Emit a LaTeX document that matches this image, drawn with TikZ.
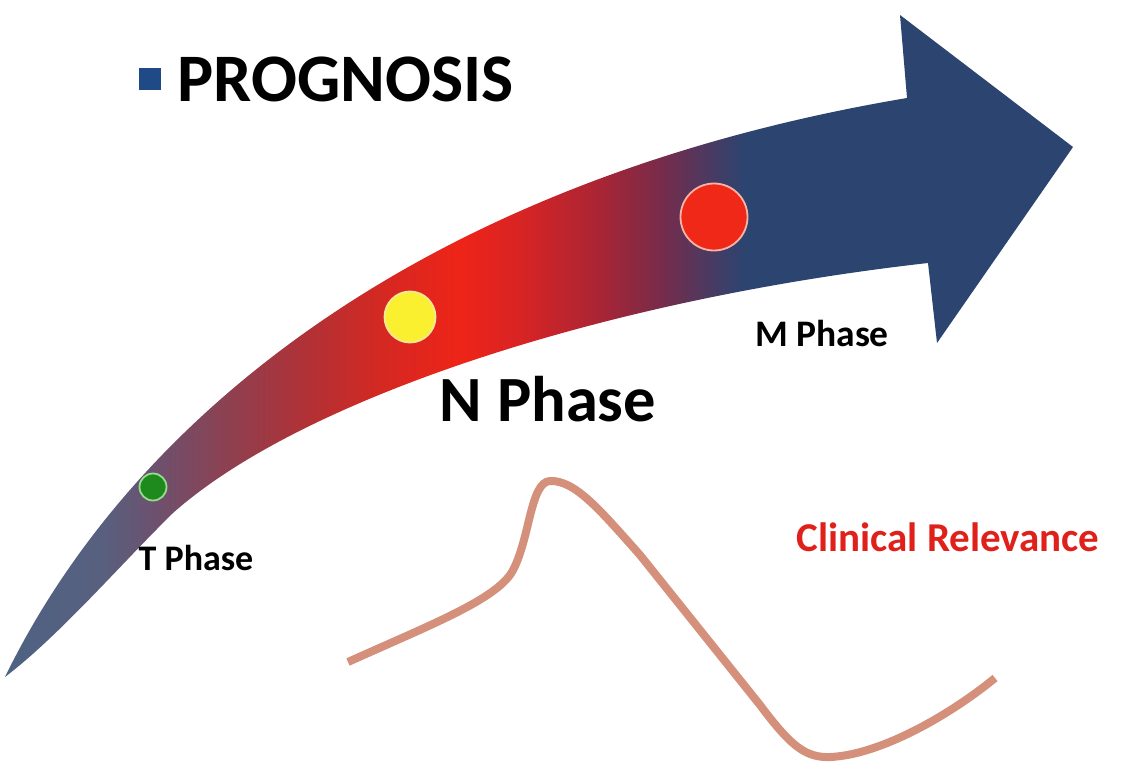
\documentclass[tikz,border=0pt]{standalone}
\usepackage{fontspec}
\setmainfont{Carlito}
\definecolor{cA}{HTML}{4E6282}
\definecolor{cB}{HTML}{58607F}
\definecolor{cC}{HTML}{6A5270}
\definecolor{cD}{HTML}{8E4050}
\definecolor{cE}{HTML}{AE3238}
\definecolor{cF}{HTML}{D42822}
\definecolor{cG}{HTML}{EE2418}
\definecolor{cH}{HTML}{D82424}
\definecolor{cI}{HTML}{A82535}
\definecolor{cJ}{HTML}{782B4A}
\definecolor{cK}{HTML}{4A3A62}
\definecolor{cL}{HTML}{2C4470}
\definecolor{sqblue}{HTML}{1F4A85}
\definecolor{curvecol}{HTML}{D4907A}
\definecolor{relred}{HTML}{E0201A}
\pgfdeclarehorizontalshading{arrowshade}{100bp}{color(0bp)=(cA); color(25bp)=(cA); color(29.5bp)=(cB); color(31.8bp)=(cC); color(35.5bp)=(cD); color(38.8bp)=(cE); color(42.6bp)=(cF); color(46.3bp)=(cG); color(49.1bp)=(cH); color(52.9bp)=(cI); color(55.7bp)=(cJ); color(58bp)=(cK); color(59.6bp)=(cL); color(75bp)=(cL); color(100bp)=(cL)}
\tikzset{
  dotnode/.style={circle, inner sep=0pt, line width=1.8pt},
  lbl/.style={font=\bfseries, text=black, inner sep=0pt, anchor=base},
}
\begin{document}
\begin{tikzpicture}[x=1pt, y=-1pt]
\useasboundingbox (0,0) rectangle (1142,770);
\fill[white] (0,0) rectangle (1142,770);
% curved arrow
\shade[shading=arrowshade] (5,677) .. controls (130,420) and (420,180) .. (907,98)
  -- (900,15) -- (1073,147) -- (937,343) -- (928,263)
  .. controls (600,300) and (300,400) .. (173,513)
  .. controls (120,565) and (60,635) .. (5,677) -- cycle;
% dots
\node[dotnode, minimum size=27pt, fill={rgb,255:red,30;green,138;blue,30}, draw={rgb,255:red,150;green,220;blue,140}] (tdot) at (153,487) {};
\node[dotnode, minimum size=51pt, fill={rgb,255:red,250;green,240;blue,48}, draw={rgb,255:red,245;green,232;blue,150}] (ndot) at (410,317) {};
\node[dotnode, minimum size=67pt, fill={rgb,255:red,240;green,40;blue,24}, draw={rgb,255:red,248;green,180;blue,165}] (mdot) at (714,217) {};
% title
\node[rectangle, fill=sqblue, minimum size=22pt, inner sep=0pt] (sq) at (150,79) {};
\node[lbl, anchor=base west, font=\bfseries\fontsize{68}{72}\selectfont] (title) at (177,102) {PROGNOSIS};
% phase labels
\node[lbl, font=\bfseries\fontsize{36}{40}\selectfont] (tlab) at (196,570) {T Phase};
\node[lbl, font=\bfseries\fontsize{64.5}{68}\selectfont] (nlab) at (548,421) {N Phase};
\node[lbl, font=\bfseries\fontsize{37.5}{40}\selectfont] (mlab) at (822,346) {M Phase};
\node[lbl, text=relred, font=\bfseries\fontsize{41}{44}\selectfont] (clin) at (948,551) {Clinical Relevance};
% clinical relevance curve
\draw[curvecol, line width=8pt] (348,662) .. controls (430,625) and (495,600) .. (512,572)
  .. controls (530,540) and (530,482) .. (550,481)
  .. controls (575,480) and (600,510) .. (640,555)
  -- (760,705)
  .. controls (790,745) and (805,758) .. (830,757)
  .. controls (880,755) and (950,715) .. (995,678);
\end{tikzpicture}
\end{document}
